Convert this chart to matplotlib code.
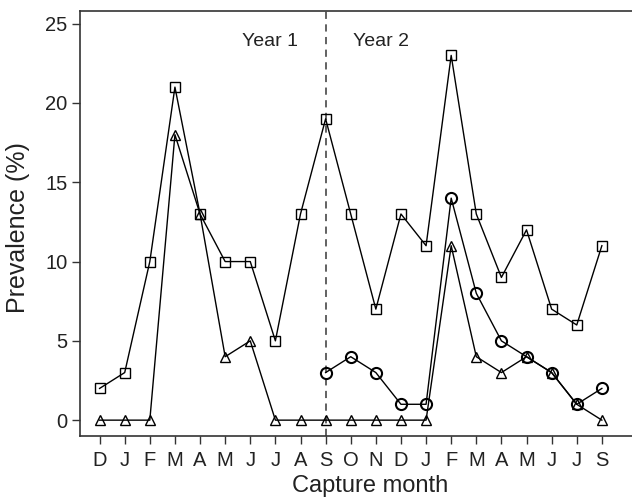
import matplotlib
matplotlib.use("Agg")
import matplotlib.pyplot as plt

plt.rcParams['font.family'] = ['Liberation Sans', 'DejaVu Sans']

months = ["D", "J", "F", "M", "A", "M", "J", "J", "A", "S",
          "O", "N", "D", "J", "F", "M", "A", "M", "J", "J", "S"]
squares = [2, 3, 10, 21, 13, 10, 10, 5, 13, 19,
           13, 7, 13, 11, 23, 13, 9, 12, 7, 6, 11]
triangles = [0, 0, 0, 18, 13, 4, 5, 0, 0, 0,
             0, 0, 0, 0, 11, 4, 3, 4, 3, 1, 0]
circles = [3, 4, 3, 1, 1, 14, 8, 5, 4, 3, 1, 2]
circle_start = 9
divider_index = 9

x = list(range(len(months)))
xc = list(range(circle_start, circle_start + len(circles)))

fig = plt.figure(figsize=(6.32, 5.0), dpi=100)
ax = fig.add_axes([79.5 / 632, 1 - 436 / 500, 1 - 79.5 / 632, (436 - 11) / 500])

ax.axvline(divider_index, color='#555555', linestyle=(0, (4, 3)), linewidth=1.3, zorder=1)

kw = dict(color='black', linewidth=1.0, markerfacecolor='none',
          markeredgecolor='black', zorder=3)
ax.plot(x, squares, marker='s', markersize=7, markeredgewidth=1.0, **kw)
ax.plot(x, triangles, marker='^', markersize=7, markeredgewidth=1.0, **kw)
ax.plot(xc, circles, marker='o', markersize=8, markeredgewidth=1.5, **kw)

ax.set_xlim(-0.8, 21.2)
ax.set_ylim(-1.0, 25.8)
ax.set_xticks(x)
ax.set_xticklabels(months)
ax.set_yticks([0, 5, 10, 15, 20, 25])
ax.tick_params(axis='both', direction='out', length=5.5, width=1, labelsize=14.5,
               color='#333333', labelcolor='#222222')
ax.tick_params(axis='x', pad=5)
ax.tick_params(axis='y', pad=3)
for s in ['left', 'bottom', 'top']:
    ax.spines[s].set_linewidth(1.2)
    ax.spines[s].set_color('#333333')
ax.spines['right'].set_visible(False)

ax.set_xlabel("Capture month", fontsize=17, color='#222222')
ax.xaxis.set_label_coords((370 - 79.5) / (632 - 79.5), -(475 - 436) / 425)
ax.set_ylabel("Prevalence (%)", fontsize=18, color='#222222')
ax.yaxis.set_label_coords(-(80 - 31) / 552.5, 0.49)

ax.text(divider_index - 1.1, 23.9, "Year 1", ha='right', va='center', fontsize=14, color='#222222')
ax.text(divider_index + 1.1, 23.9, "Year 2", ha='left', va='center', fontsize=14, color='#222222')

fig.savefig("out.png", dpi=100)
